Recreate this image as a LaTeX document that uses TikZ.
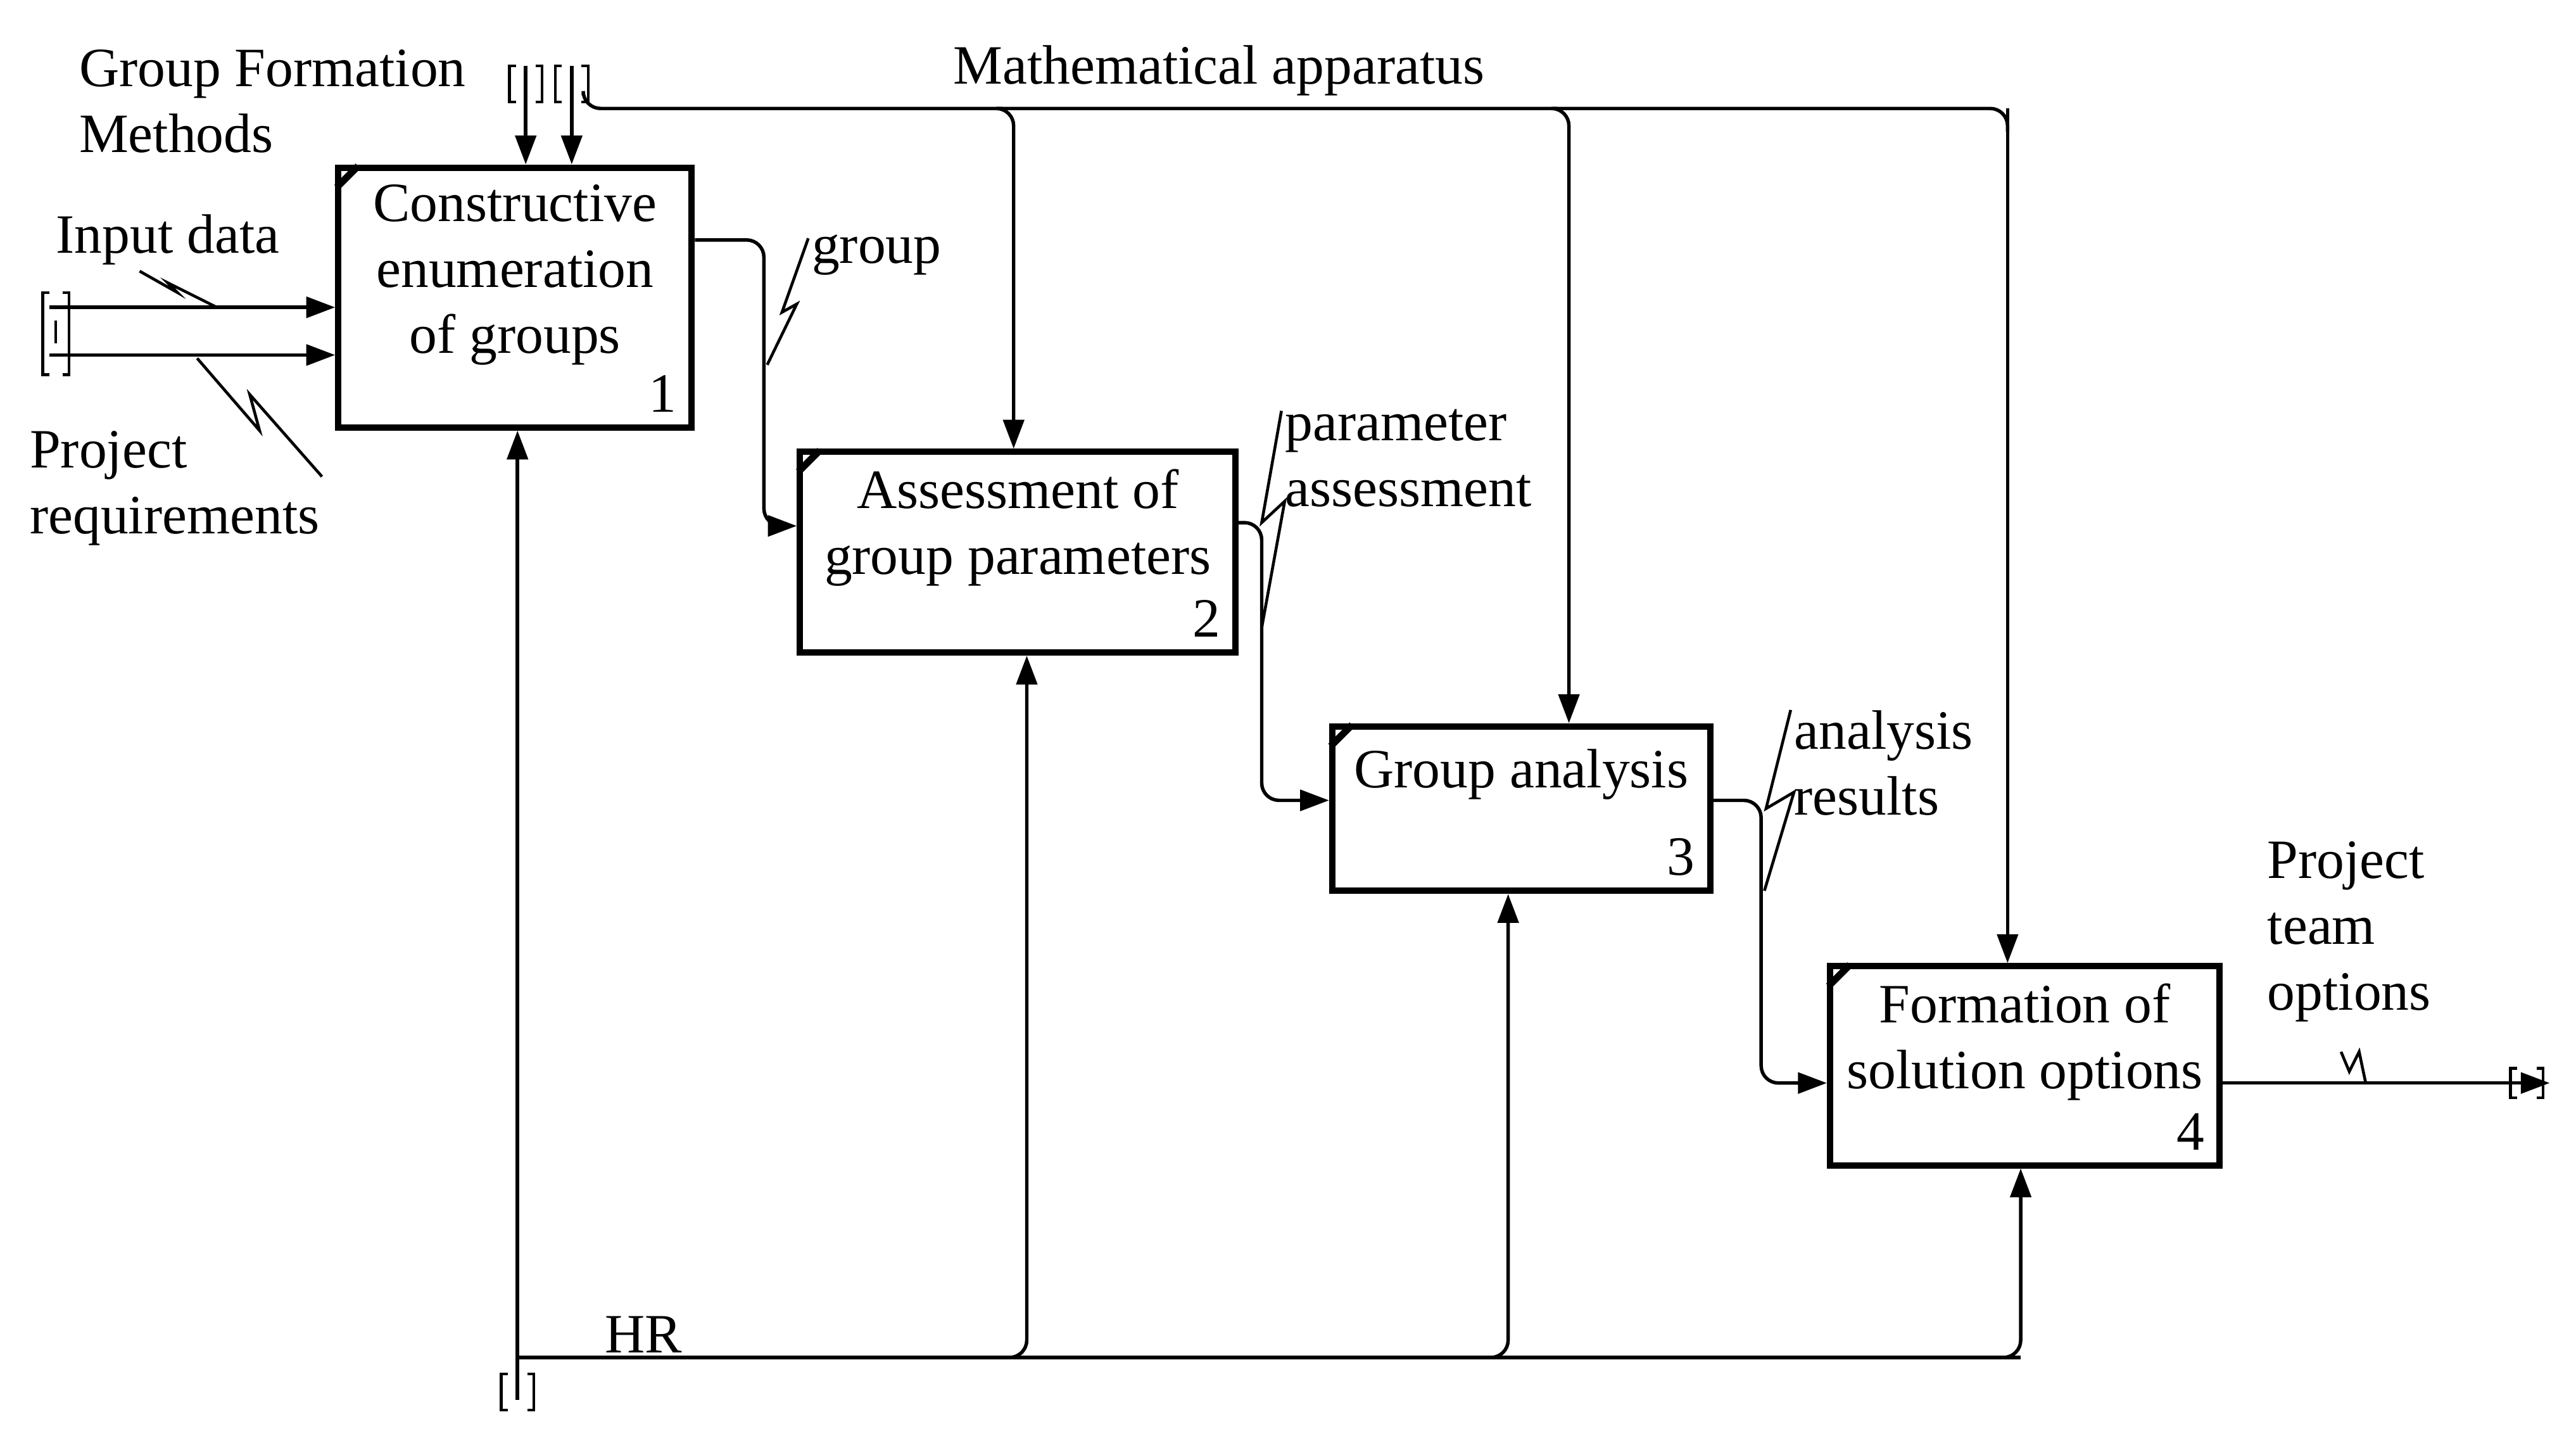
\documentclass[tikz,border=0pt]{standalone}
\usepackage{fontspec}
\setmainfont{Liberation Serif}
\usetikzlibrary{arrows.meta,positioning,calc}

\begin{document}
\begin{tikzpicture}[x=0.01cm,y=-0.01cm,>={Triangle[length=5pt,width=3.6pt]},
  font=\fontsize{9.6}{11.4}\selectfont,
  fnbox/.style={draw=black, line width=1.1pt, inner sep=0pt},
  flow/.style={->, line width=0.6pt, rounded corners=3pt},
  line/.style={line width=0.6pt, rounded corners=3pt},
  squig/.style={line width=0.5pt},
  lbl/.style={inner sep=1pt, align=left},
]
\useasboundingbox (0,0) rectangle (1568,878);

% function boxes
\node[fnbox, minimum width=2.15cm, minimum height=1.58cm] (b1) at (313.5,181) {};
\node[fnbox, minimum width=2.65cm, minimum height=1.22cm] (b2) at (619.5,336) {};
\node[fnbox, minimum width=2.30cm, minimum height=1.00cm] (b3) at (926,492) {};
\node[fnbox, minimum width=2.37cm, minimum height=1.21cm] (b4) at (1232.5,648.5) {};

\node[below=0pt of b1.north, align=center] (t1) {Constructive\\enumeration\\of groups};
\node[below=0pt of b2.north, align=center] (t2) {Assessment of\\group parameters};
\node[below=1pt of b3.north, align=center] (t3) {Group analysis};
\node[below=0pt of b4.north, align=center] (t4) {Formation of\\solution options};
\foreach \b/\n in {b1/1,b2/2,b3/3,b4/4}{
  \node[anchor=south east, inner sep=3pt] at (\b.south east) {\n};
  \draw[line width=1.2pt] ($(\b.north west)+(14,1)$) -- ++(-13,13);
}

% inputs
\coordinate (in1) at (30,187);
\coordinate (in2) at (30,216);
\draw[flow] (in1) -- (b1.west |- in1);
\draw[flow] (in2) -- (b1.west |- in2);
\draw[line width=0.5pt] (30,178) -- ++(-4,0) -- ++(0,50) -- ++(4,0)
  (38,178) -- ++(4,0) -- ++(0,50) -- ++(-4,0)
  (34,195) -- (34,209);
\node[lbl, anchor=west] (lin) at (30,146) {Input data};
\draw[squig] (85,165) -- (108,178) -- (102,172) -- (132,187);
\node[lbl, anchor=north west] (lpr) at (14,258) {Project\\requirements};
\draw[squig] (120,218) -- (158,262) -- (152,240) -- (196,290);

% controls
\coordinate (c1) at (320,40);
\coordinate (c2) at (348,40);
\draw[flow] (c1) -- (c1 |- b1.north);
\draw[flow] (c2) -- (c2 |- b1.north);
\draw[line] (355,58) -- (355,66) -- (1222,66) -- (1222,80);
\draw[flow] (610,66) -- (617,66) -- (617,66 |- b2.north);
\draw[flow] (948,66) -- (955,66) -- (955,66 |- b3.north);
\draw[flow] (1222,66) -- (1222,66 |- b4.north);
\foreach \x in {320,348}{
  \draw[line width=0.5pt] (\x-6,40) -- ++(-4,0) -- ++(0,22) -- ++(4,0)
    (\x+6,40) -- ++(4,0) -- ++(0,22) -- ++(-4,0);
}
\node[lbl, anchor=north west] (lgf) at (44,26) {Group Formation\\Methods};
\node[lbl, anchor=west] (lma) at (576,43) {Mathematical apparatus};

% outputs
\draw[flow] (b1.east |- 0,146) -- (465,146) -- (465,320) -- (b2.west |- 0,320);
\node[lbl, anchor=west] (lg) at (490,155) {group};
\draw[squig] (492,145) -- (476,190) -- (485,185) -- (467,222);

\draw[flow] (b2.east |- 0,318) -- (768,318) -- (768,487) -- (b3.west |- 0,487);
\node[lbl, anchor=north west] (lpa) at (778,245) {parameter\\assessment};
\draw[squig] (780,250) -- (768,318) -- (782,305) -- (768,382);

\draw[flow] (b3.east |- 0,487) -- (1072,487) -- (1072,659) -- (b4.west |- 0,659);
\node[lbl, anchor=north west] (lar) at (1088,428) {analysis\\results};
\draw[squig] (1090,432) -- (1075,492) -- (1092,482) -- (1074,542);

\coordinate (out) at (1552,659);
\draw[flow] (b4.east |- out) -- (out);
\draw[line width=0.5pt] (1532,650) -- ++(-4,0) -- ++(0,18) -- ++(4,0)
  (1544,650) -- ++(4,0) -- ++(0,18) -- ++(-4,0);
\node[lbl, anchor=north west] (lpt) at (1376,508) {Project\\team\\options};
\draw[squig] (1425,640) -- (1430,652) -- (1436,640) -- (1440,659);

% mechanisms
\coordinate (m1) at (315,852);
\draw[flow] (m1) -- (m1 |- b1.south);
\draw[line] (315,826) -- (1230,826);
\draw[flow] (616,826) -- (625,826) -- (625,826 |- b2.south);
\draw[flow] (910,826) -- (918,826) -- (918,826 |- b3.south);
\draw[flow] (1222,826) -- (1230,826) -- (1230,826 |- b4.south);
\draw[line width=0.5pt] (309,836) -- ++(-4,0) -- ++(0,22) -- ++(4,0)
  (321,836) -- ++(4,0) -- ++(0,22) -- ++(-4,0);
\node[lbl, anchor=west] (lhr) at (364,812) {HR};
\end{tikzpicture}
\end{document}
